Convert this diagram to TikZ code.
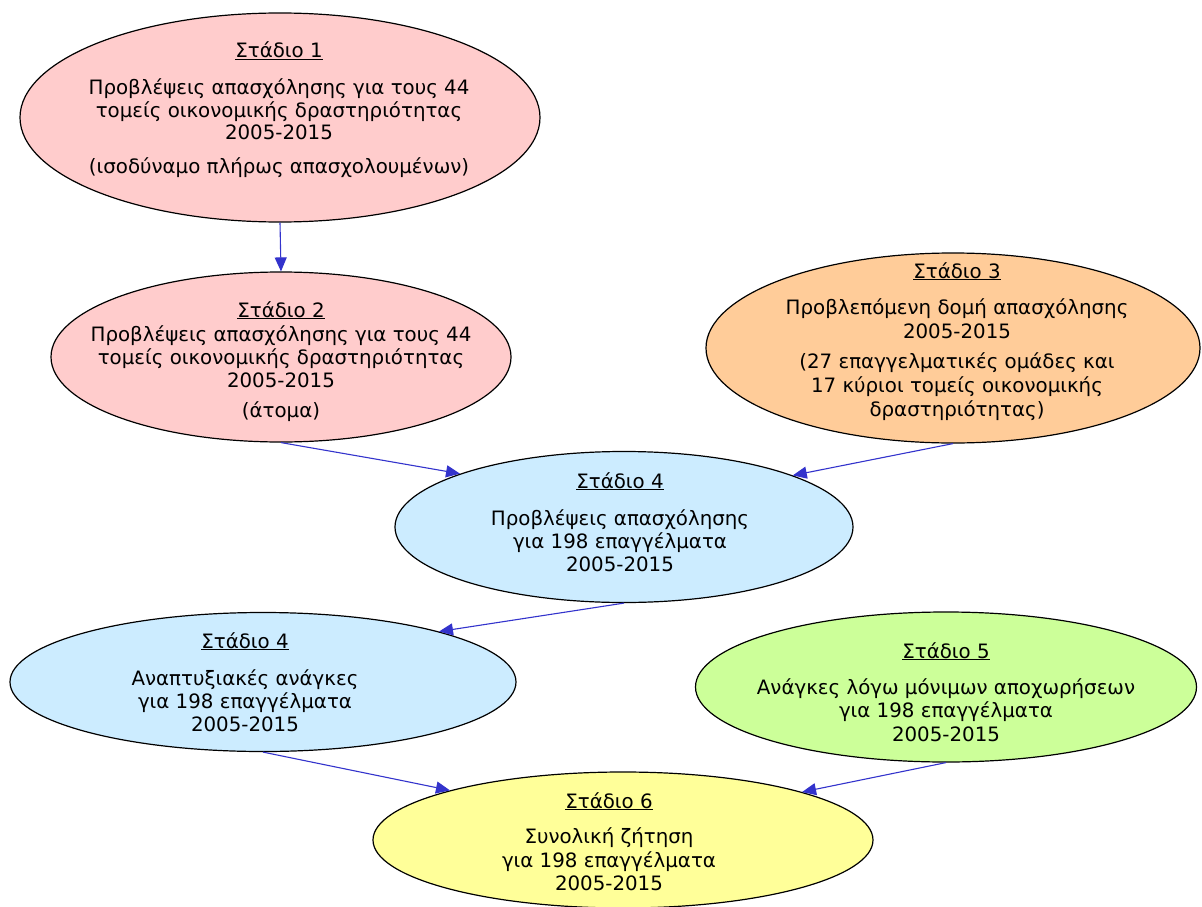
\documentclass[tikz,border=0pt]{standalone}
\usepackage{fontspec}
\setmainfont{DejaVu Sans}
\usetikzlibrary{shapes.geometric,arrows.meta}
\definecolor{pinkfill}{HTML}{FFCCCC}
\definecolor{orangefill}{HTML}{FFCC99}
\definecolor{bluefill}{HTML}{CCECFF}
\definecolor{greenfill}{HTML}{CCFF99}
\definecolor{yellowfill}{HTML}{FFFF99}
\definecolor{arrowblue}{HTML}{3333CC}
\tikzset{
  stage/.style={draw=black, line width=1.2pt, ellipse, inner sep=0pt},
  txt/.style={anchor=base, inner sep=0pt, font=\fontsize{19.8}{23}\selectfont},
  arr/.style={draw=arrowblue, line width=1.1pt, -{Triangle[length=14pt,width=12pt]}},
}
\begin{document}
\begin{tikzpicture}[x=1pt,y=-1pt]
\useasboundingbox (0,0) rectangle (1202,907);
% ellipses
\node[stage, fill=pinkfill, minimum width=520pt, minimum height=209pt] (s1) at (280,117.5) {};
\node[stage, fill=pinkfill, minimum width=460pt, minimum height=170pt] (s2) at (281,357) {};
\node[stage, fill=orangefill, minimum width=494pt, minimum height=190pt] (s3) at (953,348) {};
\node[stage, fill=bluefill, minimum width=458pt, minimum height=151pt] (s4) at (624,527) {};
\node[stage, fill=bluefill, minimum width=506pt, minimum height=139pt] (s4b) at (263,682) {};
\node[stage, fill=greenfill, minimum width=501pt, minimum height=150pt] (s5) at (946,687) {};
\node[stage, fill=yellowfill, minimum width=500pt, minimum height=136pt] (s6) at (623,840) {};
% texts stage 1
\node[txt] (t1a) at (279,58) {\underline{Στάδιο 1}};
\node[txt] (t1b) at (279,94) {Προβλέψεις απασχόλησης για τους 44};
\node[txt] (t1c) at (279,117) {τομείς οικονομικής δραστηριότητας};
\node[txt] (t1d) at (279,139) {2005-2015};
\node[txt] (t1e) at (279,173) {(ισοδύναμο πλήρως απασχολουμένων)};
% stage 2
\node[txt] (t2a) at (281,317) {\underline{Στάδιο 2}};
\node[txt] (t2b) at (281,341) {Προβλέψεις απασχόλησης για τους 44};
\node[txt] (t2c) at (281,364) {τομείς οικονομικής δραστηριότητας};
\node[txt] (t2d) at (281,387) {2005-2015};
\node[txt] (t2e) at (281,417) {(άτομα)};
% stage 3
\node[txt] (t3a) at (957,278) {\underline{Στάδιο 3}};
\node[txt] (t3b) at (957,314) {Προβλεπόμενη δομή απασχόλησης};
\node[txt] (t3c) at (957,338) {2005-2015};
\node[txt] (t3d) at (957,368) {(27 επαγγελματικές ομάδες και};
\node[txt] (t3e) at (957,392) {17 κύριοι τομείς οικονομικής};
\node[txt] (t3f) at (957,416) {δραστηριότητας)};
% stage 4
\node[txt] (t4a) at (620,488) {\underline{Στάδιο 4}};
\node[txt] (t4b) at (620,525) {Προβλέψεις απασχόλησης};
\node[txt] (t4c) at (620,548) {για 198 επαγγέλματα};
\node[txt] (t4d) at (620,571) {2005-2015};
% stage 4b
\node[txt] (t5a) at (245,648) {\underline{Στάδιο 4}};
\node[txt] (t5b) at (245,685) {Αναπτυξιακές ανάγκες};
\node[txt] (t5c) at (245,708) {για 198 επαγγέλματα};
\node[txt] (t5d) at (245,731) {2005-2015};
% stage 5
\node[txt] (t6a) at (946,658) {\underline{Στάδιο 5}};
\node[txt] (t6b) at (946,694) {Ανάγκες λόγω μόνιμων αποχωρήσεων};
\node[txt] (t6c) at (946,717) {για 198 επαγγέλματα};
\node[txt] (t6d) at (946,741) {2005-2015};
% stage 6
\node[txt] (t7a) at (609,808) {\underline{Στάδιο 6}};
\node[txt] (t7b) at (609,843) {Συνολική ζήτηση};
\node[txt] (t7c) at (609,867) {για 198 επαγγέλματα};
\node[txt] (t7d) at (609,890) {2005-2015};
% connectors
\draw[arr] (s1.south) -- (s2.north);
\draw[arr] (s2.south) -- (s4.162);
\draw[arr] (s3.south) -- (s4.17);
\draw[arr] (s4.south) -- (s4b.16);
\draw[arr] (s4b.south) -- (s6.164.7);
\draw[arr] (s5.south) -- (s6.15.2);
\end{tikzpicture}
\end{document}
